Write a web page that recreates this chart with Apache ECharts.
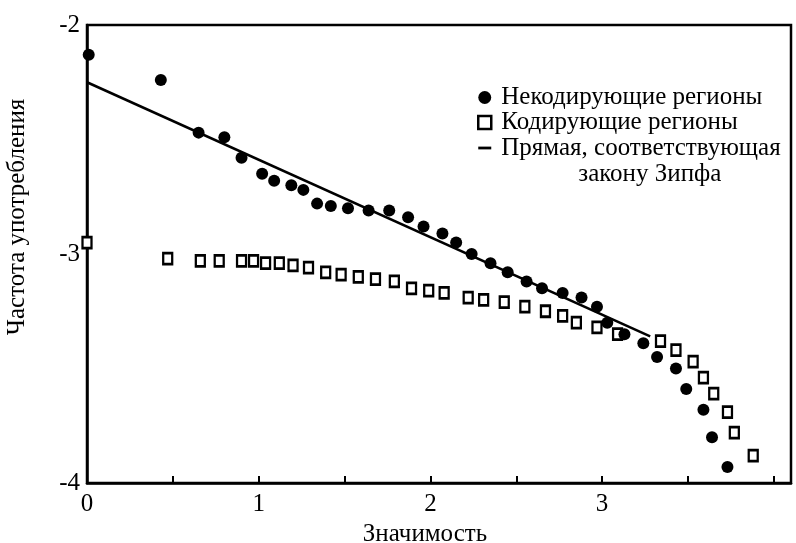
<!DOCTYPE html>
<html>
<head>
<meta charset="utf-8">
<script src="https://cdn.jsdelivr.net/npm/echarts@6/dist/echarts.min.js"></script>
<style>
  html, body { margin: 0; padding: 0; background: #fff; }
  #chart { width: 796px; height: 543px; }
</style>
</head>
<body>
<div id="chart"></div>
<script>
// названия рядов
const nameNonCoding = 'Некодирующие регионы'
const nameCoding = 'Кодирующие регионы'
const nameZipf = 'Прямая, соответствующая\nзакону Зипфа'

// некодирующие регионы: [значимость, частота]
const nonCodingX = [0.01, 0.43, 0.65, 0.80, 0.90, 1.02, 1.09, 1.19, 1.26, 1.34, 1.42, 1.52, 1.64, 1.76, 1.87,
  1.96, 2.07, 2.15, 2.24, 2.35, 2.45, 2.56, 2.65, 2.77, 2.88, 2.97, 3.03, 3.13, 3.24, 3.32, 3.43, 3.49,
  3.59, 3.64, 3.73]
const nonCodingY = [-2.13, -2.24, -2.47, -2.49, -2.58, -2.65, -2.68, -2.70, -2.72, -2.78, -2.79, -2.80, -2.81, -2.81, -2.84,
  -2.88, -2.91, -2.95, -3.00, -3.04, -3.08, -3.12, -3.15, -3.17, -3.19, -3.23, -3.30, -3.35, -3.39, -3.45, -3.50, -3.59,
  -3.68, -3.80, -3.93]

// кодирующие регионы
const codingX = [0.00, 0.47, 0.66, 0.77, 0.90, 0.97, 1.04, 1.12, 1.20, 1.29, 1.39, 1.48, 1.58, 1.68, 1.79,
  1.89, 1.99, 2.08, 2.22, 2.31, 2.43, 2.55, 2.67, 2.77, 2.85, 2.97, 3.09, 3.34, 3.43, 3.53, 3.59, 3.65,
  3.73, 3.77, 3.88]
const codingY = [-2.95, -3.02, -3.03, -3.03, -3.03, -3.03, -3.04, -3.04, -3.05, -3.06, -3.08, -3.09, -3.10, -3.11, -3.12,
  -3.15, -3.16, -3.17, -3.19, -3.20, -3.21, -3.23, -3.25, -3.27, -3.30, -3.32, -3.35, -3.38, -3.42, -3.47, -3.54, -3.61,
  -3.69, -3.78, -3.88]

// прямая Зипфа (концы)
const zipfX = [0.00, 3.28]
const zipfY = [-2.25, -3.36]

const xLabels = ['0', '1', '2', '3']

const zip = (xs, ys) => xs.map((x, i) => [x, ys[i]])

const font = 'Liberation Serif, Times New Roman, serif'
const chart = echarts.init(document.getElementById('chart'))

chart.setOption({
  animation: false,
  backgroundColor: '#fff',
  textStyle: { fontFamily: font, color: '#000' },
  grid: {
    left: 87, right: 5, top: 25, bottom: 60,
    outerBoundsMode: 'none',
    containLabel: false,
    show: true, borderColor: '#000', borderWidth: 2.5, backgroundColor: 'transparent'
  },
  legend: {
    orient: 'vertical',
    left: 472,
    top: 80,
    itemWidth: 13,
    itemHeight: 13,
    itemGap: 0,
    data: [
      { name: nameNonCoding, icon: 'circle' },
      { name: nameCoding, icon: 'rect', itemStyle: { color: '#fff', borderColor: '#000', borderWidth: 2.5 } },
      {
        name: nameZipf,
        icon: 'path://M0,0 L14,0 L14,3 L0,3 Z',
        itemStyle: { color: '#000' },
        // вторая строка свисает вниз, значок остаётся у первой
        textStyle: { padding: [0, 0, -26, 5] }
      }
    ],
    formatter: function (name) {
      if (name === nameZipf) {
        const parts = name.split('\n')
        return '{a|' + parts[0] + '}\n{b|' + parts[1] + '}'
      }
      return name
    },
    textStyle: {
      fontFamily: font, fontSize: 25, color: '#000', lineHeight: 25,
      padding: [0, 0, 0, 5],
      rich: {
        a: { fontFamily: font, fontSize: 25, color: '#000', lineHeight: 26 },
        b: { fontFamily: font, fontSize: 25, color: '#000', lineHeight: 26, padding: [0, 0, 0, 77] }
      }
    }
  },
  xAxis: {
    type: 'value',
    min: 0,
    max: 4.1,
    interval: 0.5,
    name: 'Значимость',
    nameLocation: 'middle',
    nameGap: 32,
    nameTextStyle: { fontFamily: font, fontSize: 25, color: '#000', padding: [0, 28, 0, 0] },
    axisLine: { show: true, lineStyle: { color: '#000', width: 2.5 } },
    axisTick: { show: true, inside: true, length: 7, lineStyle: { color: '#000', width: 2 } },
    splitLine: { show: false },
    axisLabel: {
      margin: 9,
      fontFamily: font,
      fontSize: 25,
      color: '#000',
      formatter: function (v) {
        return Number.isInteger(v) && v < xLabels.length ? xLabels[v] : ''
      }
    }
  },
  yAxis: {
    type: 'value',
    min: -4,
    max: -2,
    interval: 1,
    name: 'Частота употребления',
    nameLocation: 'middle',
    nameGap: 57,
    nameRotate: 90,
    nameTextStyle: { fontFamily: font, fontSize: 25, color: '#000', padding: [0, 0, 0, 74] },
    axisLine: { show: true, lineStyle: { color: '#000', width: 2.5 } },
    axisTick: { show: false },
    splitLine: { show: false },
    axisLabel: { margin: 7, fontFamily: font, fontSize: 25, color: '#000' }
  },
  series: [
    {
      name: nameZipf,
      type: 'line',
      data: zip(zipfX, zipfY),
      symbol: 'none',
      lineStyle: { color: '#000', width: 2.5 },
      itemStyle: { color: '#000' },
      z: 1
    },
    {
      name: nameNonCoding,
      type: 'scatter',
      data: zip(nonCodingX, nonCodingY),
      symbol: 'circle',
      symbolSize: 12,
      itemStyle: { color: '#000', opacity: 1 },
      z: 3
    },
    {
      name: nameCoding,
      type: 'scatter',
      data: zip(codingX, codingY),
      symbol: 'rect',
      symbolSize: [9, 11],
      itemStyle: { color: '#fff', borderColor: '#000', borderWidth: 2.5, opacity: 1 },
      z: 2
    }
  ]
})
</script>
</body>
</html>
